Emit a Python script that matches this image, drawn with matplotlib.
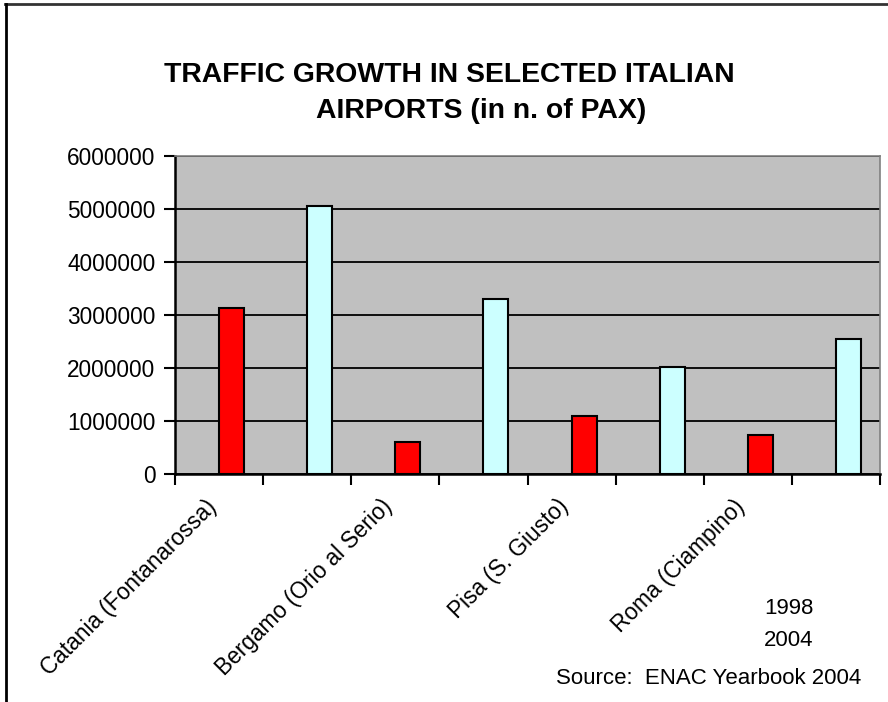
import matplotlib
matplotlib.use("Agg")
import matplotlib.pyplot as plt
from matplotlib.lines import Line2D
from matplotlib.ticker import FixedLocator, StrMethodFormatter

# Passenger traffic per airport
airports = ["Catania (Fontanarossa)", "Bergamo (Orio al Serio)",
            "Pisa (S. Giusto)", "Roma (Ciampino)"]
pax_1998 = [3140000, 600000, 1090000, 730000]
pax_2004 = [5060000, 3310000, 2010000, 2550000]
years = ["1998", "2004"]
y_ticks = [0, 1000000, 2000000, 3000000, 4000000, 5000000, 6000000]

plt.rcParams["font.family"] = ["Liberation Sans", "DejaVu Sans"]

W, H = 888, 702
fig = plt.figure(figsize=(W / 100, H / 100), dpi=100)
fig.patch.set_facecolor("white")

ax = fig.add_axes([175 / W, 1 - 474 / H, (880 - 175) / W, (474 - 156) / H])
ax.set_facecolor("#C0C0C0")

# Each airport takes two slots: 1998 then 2004
n_slots = 2 * len(airports)
bar_w = 0.284
for i in range(len(airports)):
    ax.bar(2 * i + 0.5, pax_1998[i], width=bar_w, align="edge",
           color="#FF0000", edgecolor="black", linewidth=1.5, zorder=3)
    ax.bar(2 * i + 1.5, pax_2004[i], width=bar_w, align="edge",
           color="#CCFFFF", edgecolor="black", linewidth=1.5, zorder=3)

ax.set_xlim(0, n_slots)
ax.set_ylim(0, 6000000)
ax.yaxis.set_major_locator(FixedLocator(y_ticks))
ax.yaxis.set_major_formatter(StrMethodFormatter("{x:.0f}"))
ax.grid(axis="y", color="black", linewidth=1.3, zorder=1)
ax.set_axisbelow(True)

ax.xaxis.set_major_locator(FixedLocator(list(range(n_slots + 1))))
ax.xaxis.set_major_formatter(plt.NullFormatter())
ax.xaxis.set_minor_locator(FixedLocator([2 * i + 0.43 for i in range(len(airports))]))
ax.set_xticklabels(airports, minor=True)
ax.tick_params(axis="x", which="major", length=8, width=1.5, direction="out")
ax.tick_params(axis="x", which="minor", length=0, pad=21, labelsize=16.3)
for lab in ax.get_xticklabels(minor=True):
    lab.set_rotation(45)
    lab.set_ha("right")
    lab.set_va("center")
    lab.set_rotation_mode("anchor")
ax.tick_params(axis="y", length=8, width=1.5, direction="out", pad=6, labelsize=16.3)

for s in ("left", "bottom"):
    ax.spines[s].set_color("black")
    ax.spines[s].set_linewidth(1.8)
for s in ("top", "right"):
    ax.spines[s].set_color("#808080")
    ax.spines[s].set_linewidth(1.2)

fig.text(449 / W, 1 - 75 / H, "TRAFFIC GROWTH IN SELECTED ITALIAN",
         ha="center", va="center", fontsize=20.4, fontweight="bold")
fig.text(481 / W, 1 - 111 / H, "AIRPORTS (in n. of PAX)",
         ha="center", va="center", fontsize=20.4, fontweight="bold")

fig.text(789 / W, 1 - 609 / H, years[0], ha="center", va="center", fontsize=16)
fig.text(789 / W, 1 - 640 / H, years[1], ha="center", va="center", fontsize=16)
fig.text(709 / W, 1 - 678 / H, "Source:  ENAC Yearbook 2004",
         ha="center", va="center", fontsize=16)

# Chart frame edges
fig.add_artist(Line2D([5 / W, 1], [1 - 4 / H, 1 - 4 / H], transform=fig.transFigure,
                      color="#333333", linewidth=2))
fig.add_artist(Line2D([6 / W, 6 / W], [0, 1 - 4 / H], transform=fig.transFigure,
                      color="black", linewidth=2))

fig.savefig("out.png", dpi=100)
